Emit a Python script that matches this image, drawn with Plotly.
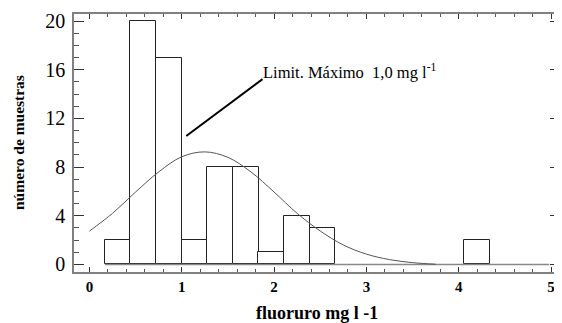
import plotly.graph_objects as go

# Histogram bins (centers, counts)
bin_centers = [0.305, 0.583, 0.860, 1.138, 1.415, 1.693, 1.970, 2.248, 2.525, 4.195]
bin_counts = [2, 20, 17, 2, 8, 8, 1, 4, 3, 2]
bin_width = 0.2775

# Baseline of the histogram
baseline_x = [0.167, 4.98]
baseline_y = [0, 0]

# Fitted curve
curve_x = [0, 0.25, 0.5, 0.75, 1.0, 1.25, 1.5, 1.75, 2.0, 2.25, 2.5, 2.75, 3.0, 3.25, 3.5, 3.75]
curve_y = [2.74, 4.2, 5.95, 7.6, 8.85, 9.25, 8.8, 7.6, 5.95, 4.2, 2.75, 1.6, 0.85, 0.4, 0.15, 0.02]

x_ticks = [0, 1, 2, 3, 4, 5]
y_ticks = [0, 4, 8, 12, 16, 20]

# Annotation pointer
pointer_x = [1.049, 1.875]
pointer_y = [10.56, 15.23]
annot_text = "Limit. Máximo&nbsp; 1,0 mg l<sup>-1</sup>"

serif = "Liberation Serif"

fig = go.Figure()
fig.add_trace(go.Scatter(x=baseline_x, y=baseline_y, mode="lines",
                         line=dict(color="#888888", width=1.5), hoverinfo="skip"))
fig.add_trace(go.Bar(x=bin_centers, y=bin_counts, width=bin_width,
                     marker=dict(color="white", line=dict(color="#222222", width=1))))
fig.add_trace(go.Scatter(x=curve_x, y=curve_y, mode="lines",
                         line=dict(color="#555555", width=1, shape="spline")))
fig.add_trace(go.Scatter(x=pointer_x, y=pointer_y, mode="lines",
                         line=dict(color="black", width=2)))

fig.add_annotation(x=pointer_x[1], y=pointer_y[1], text=annot_text, showarrow=False,
                   xanchor="left", yanchor="bottom", yshift=-5, xshift=-2,
                   font=dict(family=serif, size=16.5, color="black"))

fig.add_annotation(xref="paper", yref="paper", x=0, y=0.5, xshift=-56,
                   text="<b>número de muestras</b>", textangle=-90, showarrow=False,
                   xanchor="center", yanchor="middle",
                   font=dict(family=serif, size=15.5, color="black"))
fig.add_annotation(xref="paper", yref="paper", x=0.5, y=0, yshift=-41,
                   text="<b>fluoruro mg l -1</b>", showarrow=False,
                   xanchor="center", yanchor="middle",
                   font=dict(family=serif, size=18, color="black"))

fig.update_layout(
    width=554, height=315,
    margin=dict(l=66, r=0, t=6, b=51),
    paper_bgcolor="white", plot_bgcolor="white",
    showlegend=False, bargap=0,
)
fig.update_xaxes(range=[-0.167, 5.097], tickvals=x_ticks,
                 ticktext=["<b>%d</b>" % v for v in x_ticks],
                 ticks="inside", ticklen=5, tickcolor="#333333",
                 minor=dict(dtick=0.2, ticks="inside", ticklen=3, tickcolor="#555555"),
                 showline=True, linecolor="#808080", linewidth=1.5, mirror="ticks",
                 showgrid=False, zeroline=False,
                 tickfont=dict(family=serif, size=15, color="black"))
fig.update_yaxes(range=[-0.62, 20.58], tickvals=y_ticks,
                 ticks="inside", ticklen=10, tickcolor="#333333",
                 minor=dict(dtick=1, ticks="inside", ticklen=5, tickcolor="#555555"),
                 showline=True, linecolor="#808080", linewidth=1.5, mirror="ticks",
                 showgrid=False, zeroline=False, ticklabelstandoff=3,
                 tickfont=dict(family=serif, size=20, color="black"))

fig.write_html("out.html")
